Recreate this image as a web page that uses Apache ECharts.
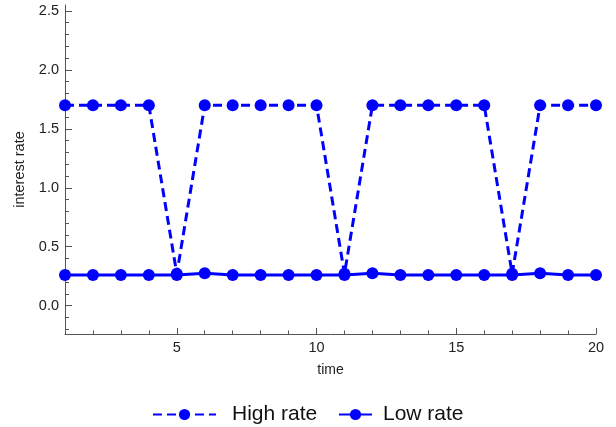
<!DOCTYPE html>
<html>
<head>
<meta charset="utf-8">
<script src="https://cdn.jsdelivr.net/npm/echarts@6/dist/echarts.min.js"></script>
<style>html,body{margin:0;padding:0;background:#fff}#c{width:616px;height:427px}</style>
</head>
<body>
<div id="c"></div>
<script>
const times = [1,2,3,4,5,6,7,8,9,10,11,12,13,14,15,16,17,18,19,20];
const highRate = [1.7,1.7,1.7,1.7,0.27,1.7,1.7,1.7,1.7,1.7,0.27,1.7,1.7,1.7,1.7,1.7,0.27,1.7,1.7,1.7];
const lowRate = [0.26,0.26,0.26,0.26,0.26,0.275,0.26,0.26,0.26,0.26,0.26,0.275,0.26,0.26,0.26,0.26,0.26,0.275,0.26,0.26];
const xMajorTicks = [5,10,15,20];
const xMinorTicks = [2,3,4,6,7,8,9,11,12,13,14,16,17,18,19];
const yMajorTicks = [0,0.5,1,1.5,2,2.5];
const yMinorTicks = [-0.2,-0.1,0.1,0.2,0.3,0.4,0.6,0.7,0.8,0.9,1.1,1.2,1.3,1.4,1.6,1.7,1.8,1.9,2.1,2.2,2.3,2.4];

const FONT = 'Liberation Sans, Arial, sans-serif';
const AXIS_COLOR = '#555';
const BLUE = '#0000ff';

const chart = echarts.init(document.getElementById('c'), null, {renderer: 'canvas'});
const xMin = 1, xMax = 20, yMin = -0.24, yMax = 2.55;

chart.setOption({
  animation: false,
  grid: {left: 65, right: 20, top: 5, bottom: 93, containLabel: false},
  xAxis: [
    {
      type: 'value', min: xMin, max: xMax, position: 'bottom',
      name: 'time', nameLocation: 'middle', nameGap: 29,
      nameTextStyle: {fontFamily: FONT, fontSize: 14, color: '#222'},
      axisLine: {show: true, onZero: false, lineStyle: {color: AXIS_COLOR, width: 1}},
      axisTick: {show: true, inside: true, length: 6, customValues: xMajorTicks, lineStyle: {color: AXIS_COLOR}},
      axisLabel: {show: true, customValues: xMajorTicks, fontFamily: FONT, fontSize: 14.5, color: '#222', margin: 6},
      splitLine: {show: false}
    },
    {
      type: 'value', min: xMin, max: xMax, position: 'bottom',
      axisLine: {show: false, onZero: false},
      axisTick: {show: true, inside: true, length: 3.5, customValues: xMinorTicks, lineStyle: {color: AXIS_COLOR}},
      axisLabel: {show: false},
      splitLine: {show: false}
    }
  ],
  yAxis: [
    {
      type: 'value', min: yMin, max: yMax, position: 'left',
      name: 'interest rate', nameLocation: 'middle', nameGap: 36, nameRotate: 90,
      nameTextStyle: {fontFamily: FONT, fontSize: 14.5, color: '#222'},
      axisLine: {show: true, onZero: false, lineStyle: {color: AXIS_COLOR, width: 1}},
      axisTick: {show: true, inside: true, length: 7, customValues: yMajorTicks, lineStyle: {color: AXIS_COLOR}},
      axisLabel: {show: true, customValues: yMajorTicks, fontFamily: FONT, fontSize: 14.5, color: '#222', margin: 6,
        formatter: v => Number(v).toFixed(1)},
      splitLine: {show: false}
    },
    {
      type: 'value', min: yMin, max: yMax, position: 'left',
      axisLine: {show: false, onZero: false},
      axisTick: {show: true, inside: true, length: 4, customValues: yMinorTicks, lineStyle: {color: AXIS_COLOR}},
      axisLabel: {show: false},
      splitLine: {show: false}
    }
  ],
  legend: [
    {
      data: ['High rate'], left: 147, top: 399, itemWidth: 63, itemHeight: 14,
      textStyle: {fontFamily: FONT, fontSize: 21, color: '#111', padding: [0,0,0,11]}
    },
    {
      data: ['Low rate'], left: 333, top: 399, itemWidth: 33, itemHeight: 14,
      textStyle: {fontFamily: FONT, fontSize: 21, color: '#111', padding: [0,0,0,6]}
    }
  ],
  series: [
    {
      name: 'High rate', type: 'line', xAxisIndex: 0, yAxisIndex: 0,
      data: times.map((t, i) => [t, highRate[i]]),
      symbol: 'circle', symbolSize: 12, showAllSymbol: true,
      lineStyle: {color: BLUE, width: 3, type: [9, 5]},
      itemStyle: {color: BLUE},
      z: 2
    },
    {
      name: 'Low rate', type: 'line', xAxisIndex: 0, yAxisIndex: 0,
      data: times.map((t, i) => [t, lowRate[i]]),
      symbol: 'circle', symbolSize: 12, showAllSymbol: true,
      lineStyle: {color: BLUE, width: 3, type: 'solid'},
      itemStyle: {color: BLUE},
      z: 3
    }
  ]
});
</script>
</body>
</html>
